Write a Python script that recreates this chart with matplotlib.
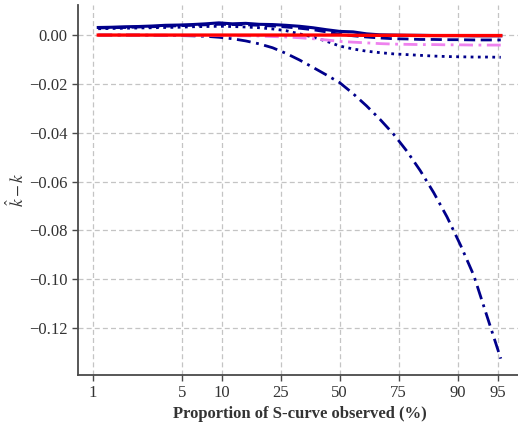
import matplotlib
matplotlib.use('Agg')
import matplotlib.pyplot as plt
from matplotlib.ticker import NullLocator, FixedLocator, FixedFormatter

# proportion of the S-curve observed (%)
observed = [1.10, 1.40, 1.80, 2.30, 2.93, 3.73, 4.74, 6.00, 7.59, 9.53,
            11.92, 14.80, 18.24, 22.27, 26.89, 32.08, 37.75, 43.78, 50.00, 56.22,
            62.25, 67.92, 73.11, 77.73, 81.76, 85.20, 88.08, 90.47, 92.41, 93.99,
            95.26]

# bias of the estimated k for each estimator
bias_solid = [0.0031, 0.0032, 0.0034, 0.0035, 0.0037, 0.0040, 0.0041, 0.0043, 0.0046, 0.0050,
              0.0046, 0.0048, 0.0044, 0.0043, 0.0040, 0.0036, 0.0030, 0.0022, 0.0015, 0.0013,
              0.0005, 0.0001, 0.0000, -0.0001, -0.0001, -0.0002, -0.0002, -0.0002, -0.0003, -0.0003,
              -0.0003]
bias_dashed = [0.0029, 0.0030, 0.0031, 0.0033, 0.0034, 0.0036, 0.0038, 0.0040, 0.0042, 0.0044,
               0.0043, 0.0042, 0.0040, 0.0037, 0.0033, 0.0028, 0.0022, 0.0013, 0.0003, -0.0003,
               -0.0008, -0.0012, -0.0015, -0.0016, -0.0018, -0.0018, -0.0019, -0.0019, -0.0020, -0.0020,
               -0.0020]
bias_dotted = [0.0026, 0.0027, 0.0028, 0.0029, 0.0030, 0.0031, 0.0032, 0.0034, 0.0035, 0.0036,
               0.0035, 0.0033, 0.0030, 0.0025, 0.0018, 0.0005, -0.0008, -0.0025, -0.0045, -0.0057,
               -0.0066, -0.0072, -0.0077, -0.0080, -0.0083, -0.0086, -0.0088, -0.0089, -0.0090, -0.0090,
               -0.0091]
bias_dashdot = [0.0, 0.0, 0.0, 0.0, -0.0001, -0.0001, -0.0002, -0.0003, -0.0005, -0.0009,
                -0.0015, -0.0024, -0.0036, -0.0052, -0.0075, -0.0102, -0.0132, -0.0163, -0.0195, -0.0240,
                -0.0290, -0.0345, -0.0405, -0.0475, -0.0555, -0.0645, -0.0745, -0.0860, -0.0985, -0.1155,
                -0.1325]
bias_violet = [0.0, 0.0, 0.0, 0.0, -0.0001, -0.0001, -0.0001, -0.0001, -0.0002, -0.0002,
               -0.0003, -0.0003, -0.0004, -0.0006, -0.0008, -0.0011, -0.0015, -0.0020, -0.0026, -0.0029,
               -0.0032, -0.0035, -0.0037, -0.0038, -0.0039, -0.0039, -0.0040, -0.0040, -0.0041, -0.0041,
               -0.0041]
bias_red = [0.0, 0.0, 0.0, 0.0, 0.0, 0.0, 0.0, 0.0, 0.0, 0.0,
            0.0, 0.0, 0.0, 0.0, 0.0, 0.0, 0.0, 0.0, 0.0, -0.0001,
            -0.0001, -0.0001, -0.0001, -0.0001, -0.0002, -0.0002, -0.0002, -0.0002, -0.0002, -0.0002,
            -0.0002]

tick_pct = [1, 5, 10, 25, 50, 75, 90, 95]

plt.rcParams['font.family'] = ['Liberation Serif', 'DejaVu Serif']
plt.rcParams['mathtext.fontset'] = 'stix'

fig = plt.figure(figsize=(5.18, 4.26), dpi=100)
ax = fig.add_axes([0.1506, 0.1197, 0.8552, 0.8685])

x = [p / 100 for p in observed]
navy = '#00008b'
ax.plot(x, bias_solid, color=navy, lw=2.2, ls='-')
ax.plot(x, bias_dashed, color=navy, lw=2.0, ls=(0, (4, 2)))
ax.plot(x, bias_dotted, color=navy, lw=2.0, ls=(0, (1, 1.6)))
ax.plot(x, bias_dashdot, color=navy, lw=2.0, ls=(0, (5, 2, 1, 2)))
ax.plot(x, bias_violet, color='violet', lw=2.0, ls=(0, (5, 2, 1, 2)))
ax.plot(x, bias_red, color='red', lw=2.4, ls='-')

ax.set_xscale('logit')
ax.set_xlim(0.00757, 0.9670)
ax.set_ylim(-0.1392, 0.0123)

ax.xaxis.set_major_locator(FixedLocator([p / 100 for p in tick_pct]))
ax.xaxis.set_major_formatter(FixedFormatter([str(p) for p in tick_pct]))
ax.xaxis.set_minor_locator(NullLocator())
ax.set_yticks([0.0, -0.02, -0.04, -0.06, -0.08, -0.10, -0.12])
ax.set_yticklabels(['0.00', '\u22120.02', '\u22120.04', '\u22120.06', '\u22120.08', '\u22120.10', '\u22120.12'])

ax.grid(True, color='#c4c4c4', ls=(0, (4, 2.5)), lw=0.9)
ax.set_axisbelow(True)

for side in ['top', 'right']:
    ax.spines[side].set_visible(False)
for side in ['left', 'bottom']:
    ax.spines[side].set_color('#4a4a4a')
    ax.spines[side].set_linewidth(1.3)
ax.tick_params(axis='both', colors='#4a4a4a', labelcolor='#333333', labelsize=12,
               length=4, width=1.0)

ax.set_xlabel('Proportion of S-curve observed (%)', fontsize=12, fontweight='bold',
              color='#333333', labelpad=3)
ax.set_ylabel(r'$\hat{k} - k$', fontsize=12.5, color='#333333', labelpad=1)

fig.savefig('out.png', dpi=100)
